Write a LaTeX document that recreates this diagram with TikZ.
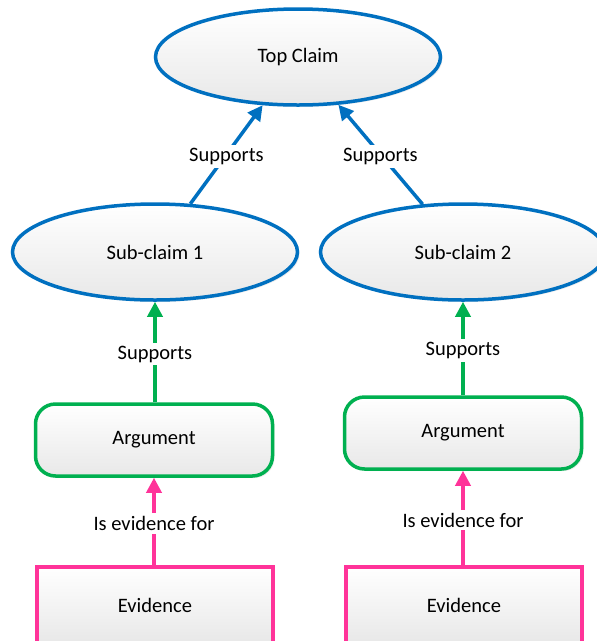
\documentclass[tikz,border=0pt]{standalone}
\usepackage{fontspec}
\setmainfont{Carlito}
\usetikzlibrary{shapes.geometric,arrows.meta,shadows}

\definecolor{claimblue}{RGB}{0,112,192}
\definecolor{arggreen}{RGB}{0,176,80}
\definecolor{evpink}{RGB}{255,51,153}

\tikzset{
  shade box/.style={top color=white, bottom color=gray!18,
    drop shadow={opacity=0.15, shadow xshift=2pt, shadow yshift=-2pt}},
  claim/.style={ellipse, draw=claimblue, line width=3.5pt, shade box,
    minimum width=285pt, minimum height=96pt, inner sep=0pt},
  argbox/.style={rectangle, rounded corners=20pt, draw=arggreen, line width=3.5pt,
    shade box, minimum width=237pt, minimum height=72pt},
  evbox/.style={rectangle, draw=evpink, line width=3.5pt,
    shade box, minimum width=236pt, minimum height=76pt},
  link/.style={line width=3.5pt, -{Triangle[length=15pt,width=15pt]}},
  lbl/.style={fill=white, inner sep=3pt, yshift=-2pt}
}

\begin{document}
\begin{tikzpicture}[x=1pt, y=-1pt, font=\fontsize{20.5}{24}\selectfont]
  \useasboundingbox (0,0) rectangle (597,641);

  % Claims
  \node[claim] (top) at (298,57) {Top Claim};
  \node[claim] (sub1) at (155,252) {Sub-claim 1};
  \node[claim] (sub2) at (463,252) {Sub-claim 2};

  % Arguments
  \node[argbox] (arg1) at (154,440) {Argument};
  \node[argbox] (arg2) at (463,433) {Argument};

  % Evidence
  \node[evbox] (ev1) at (155,605) {Evidence};
  \node[evbox] (ev2) at (464,605) {Evidence};

  % Links
  \draw[link, claimblue] (sub1) -- node[lbl, text=black] {Supports} (top);
  \draw[link, claimblue] (sub2) -- node[lbl, text=black] {Supports} (top);
  \draw[link, arggreen] (arg1.north -| sub1) -- node[lbl, text=black] {Supports} (sub1);
  \draw[link, arggreen] (arg2.north -| sub2) -- node[lbl, text=black] {Supports} (sub2);
  \draw[link, evpink] (ev1.north -| arg1) -- node[lbl, text=black] {Is evidence for} (arg1);
  \draw[link, evpink] (ev2.north -| arg2) -- node[lbl, text=black] {Is evidence for} (arg2);
\end{tikzpicture}
\end{document}
